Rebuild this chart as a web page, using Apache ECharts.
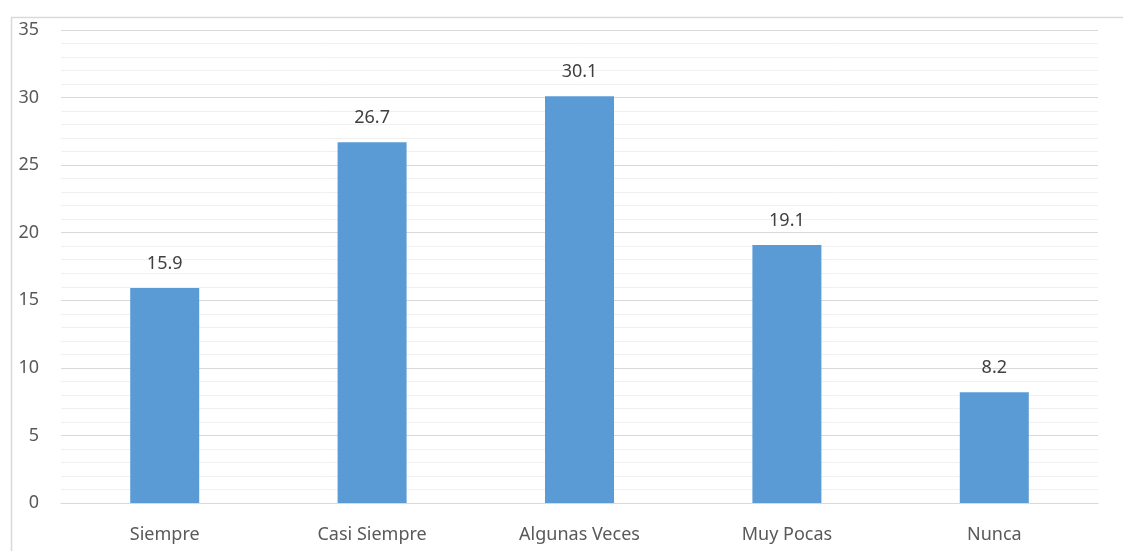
<!DOCTYPE html>
<html lang="es">
  <head>
    <meta charset="UTF-8" />
    <title>Frecuencia</title>
    <script src="https://cdn.jsdelivr.net/npm/echarts@6/dist/echarts.min.js"></script>
    <style>
      html, body { margin: 0; padding: 0; background: #fff; }
      #chart { width: 1123px; height: 551px; }
    </style>
  </head>
  <body>
    <div id="chart"></div>
    <script>
      // datos
      var categorias = ["Siempre", "Casi Siempre", "Algunas Veces", "Muy Pocas", "Nunca"];
      var valores = [15.9, 26.7, 30.1, 19.1, 8.2];
      var yMax = 35;
      var yPaso = 5;

      var myChart = echarts.init(document.getElementById("chart"));
      var fuente = "Noto Sans";

      var option = {
        animation: false,
        graphic: [
          {
            type: "rect",
            left: 9, top: 15,
            shape: { width: 1130, height: 560 },
            style: { fill: "none", stroke: "#d9d9d9", lineWidth: 1.5 }
          }
        ],
        grid: { left: 61, right: 25, top: 30, bottom: 48 },
        xAxis: {
          type: "category",
          data: categorias,
          axisLine: { show: true, lineStyle: { color: "#d9d9d9" } },
          axisTick: { show: false },
          axisLabel: { color: "#595959", fontSize: 18, fontFamily: fuente, margin: 23 }
        },
        yAxis: {
          type: "value",
          min: 0,
          max: yMax,
          interval: yPaso,
          axisLine: { show: false },
          axisTick: { show: false },
          axisLabel: { color: "#595959", fontSize: 18, fontFamily: fuente, margin: 22 },
          splitLine: { lineStyle: { color: "#d9d9d9", width: 1 } },
          minorTick: { show: false, splitNumber: 5 },
          minorSplitLine: { show: true, lineStyle: { color: "#f0f0f0", width: 1 } }
        },
        series: [
          {
            type: "bar",
            data: valores,
            barWidth: 69,
            itemStyle: { color: "#5b9bd5" },
            label: {
              show: true,
              position: "top",
              distance: 15,
              color: "#404040",
              fontSize: 18,
              fontFamily: fuente
            }
          }
        ]
      };
      myChart.setOption(option);
    </script>
  </body>
</html>
